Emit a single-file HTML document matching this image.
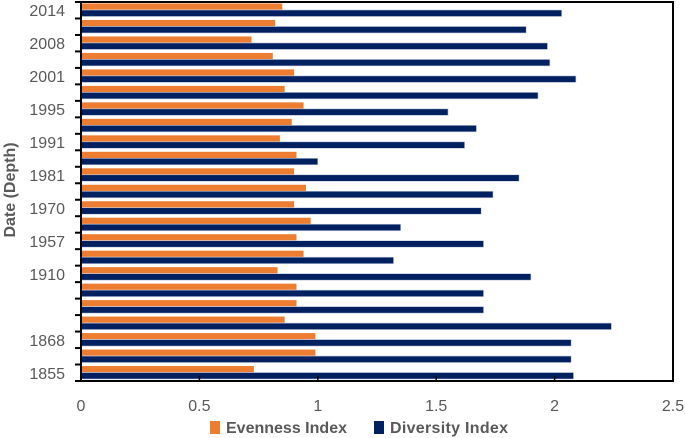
<!DOCTYPE html>
<html><head><meta charset="utf-8"><style>
body{margin:0;background:#fff;}
svg{display:block;font-family:"Liberation Sans",sans-serif;}
</style></head><body>
<svg id="chart" width="685" height="438"></svg>
<script>
const categories=["2014","","2008","","2001","","1995","","1991","","1981","","1970","","1957","","1910","","","","1868","","1855"];
const evenness=[0.85,0.82,0.72,0.81,0.90,0.86,0.94,0.89,0.84,0.91,0.90,0.95,0.90,0.97,0.91,0.94,0.83,0.91,0.91,0.86,0.99,0.99,0.73];
const diversity=[2.03,1.88,1.97,1.98,2.09,1.93,1.55,1.67,1.62,1.00,1.85,1.74,1.69,1.35,1.70,1.32,1.90,1.70,1.70,2.24,2.07,2.07,2.08];
const xTicks=[0,0.5,1,1.5,2,2.5];
const NS="http://www.w3.org/2000/svg";
const svg=document.getElementById('chart');
const L=81,R=673,T=2,B=381,xMax=2.5;
const band=(B-T)/categories.length;
function xs(v){return L+v/xMax*(R-L);}
function ys(i){return T+i*band;}
function mk(tag,attrs,parent){const e=document.createElementNS(NS,tag);for(const k in attrs)e.setAttribute(k,attrs[k]);(parent||svg).appendChild(e);return e;}
categories.forEach((c,i)=>{
  const y=ys(i);
  const b1=mk('rect',{x:L,y:y+1.5,width:xs(evenness[i])-L,height:6.2,fill:'#ED7D31'});
  
  
  const b2=mk('rect',{x:L,y:y+8,width:xs(diversity[i])-L,height:6.5,fill:'#002060',stroke:'#c5cce0','stroke-width':0.6});
  
  
  if(c){const t=mk('text',{x:65,y:y+band/2+6,'text-anchor':'end','font-size':16,fill:'#595959'});t.textContent=c;
  
  }
});
for(let i=0;i<=categories.length;i++){
  mk('line',{x1:L-6,x2:L,y1:ys(i),y2:ys(i),stroke:'#000','stroke-width':2});
}
xTicks.forEach(v=>{
  const x=xs(v);
  mk('line',{x1:x,x2:x,y1:B,y2:B-5,stroke:'#000','stroke-width':1.5});
  const t=mk('text',{x:x,y:411,'text-anchor':'middle','font-size':16,fill:'#595959'});t.textContent=v;
  
  
});
const frame=mk('rect',{x:L,y:T,width:R-L,height:B-T,fill:'none',stroke:'#000','stroke-width':2});


const yt=mk('text',{transform:'translate(15,190) rotate(-90)','text-anchor':'middle','font-size':16,'font-weight':'bold',fill:'#595959'});
yt.textContent='Date (Depth)';


const lg=mk('g',{});


const l1=mk('rect',{x:210,y:421,width:10,height:13,fill:'#ED7D31'},lg);
const lt1=mk('text',{x:226,y:433,'font-size':16,'font-weight':'bold',fill:'#595959',textLength:121},lg);lt1.textContent='Evenness Index';


const l2=mk('rect',{x:374,y:421,width:10,height:13,fill:'#002060'},lg);
const lt2=mk('text',{x:390,y:433,'font-size':16,'font-weight':'bold',fill:'#595959',textLength:118},lg);lt2.textContent='Diversity Index';


</script>
</body></html>
